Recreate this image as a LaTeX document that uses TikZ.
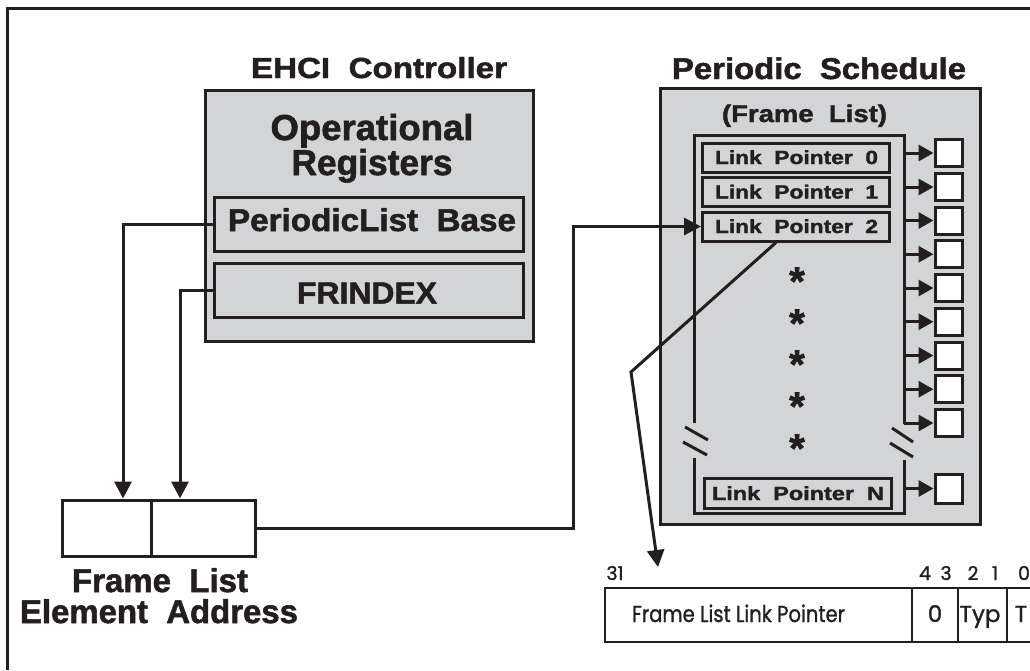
\documentclass[tikz,border=0pt]{standalone}
\usepackage{fontspec}
\usepackage{graphicx}
\setmainfont{Liberation Sans}[BoldFeatures={FakeBold=1.6}]
\newfontfamily\regfont{Poppins}[FakeBold=1.2]
\usetikzlibrary{arrows.meta}
\definecolor{ink}{RGB}{35,31,32}
\definecolor{panelgray}{RGB}{211,212,214}
% bold label set at a given size and brought to a given width: #1 width, #2 size, #3 text
\newcommand\boldfit[3]{\resizebox{#1pt}{\height}{\fontsize{#2pt}{#2pt}\selectfont\bfseries #3}}
% register-field lettering, same idea
\newcommand\regfit[3]{\resizebox{#1pt}{\height}{\fontsize{#2pt}{#2pt}\selectfont\regfont #3}}
\begin{document}
\begin{tikzpicture}[x=1pt,y=-1pt,
  every node/.style={text=ink},
  heavy/.style={draw=ink, line width=3pt},
  panel/.style={draw=ink, line width=3pt, fill=panelgray, inner sep=0pt},
  cell/.style={draw=ink, line width=3pt, fill=white, inner sep=0pt},
  slot/.style={draw=ink, line width=3pt, fill=panelgray, inner sep=0pt,
               minimum width=187pt, minimum height=29pt},
  qhead/.style={cell, minimum width=27pt, minimum height=27pt},
  regcell/.style={draw=ink, line width=2.5pt, fill=white, inner sep=0pt, minimum height=54pt},
  conn/.style={draw=ink, line width=3pt, -{Triangle[length=17pt,width=17pt]}},
  feed/.style={draw=ink, line width=3pt, -{Triangle[length=15pt,width=16pt]}},
  txt/.style={anchor=base, inner sep=0pt},
]
\useasboundingbox (0,0) rectangle (1030,670);
\clip (0,0) rectangle (1030,670);

% page frame (top and left edges)
\draw[heavy] (1030,8.5) -- (7,8.5) -- (7,670);

% ---------------- EHCI controller ----------------
\node[txt] (ehcititle) at (379,78) {\boldfit{256}{29}{EHCI\ \ Controller}};
\node[panel, minimum width=328pt, minimum height=251pt] (ehci) at (369,215.5) {};
\node[txt] (opreg1) at (372,140) {\boldfit{203}{36}{Operational}};
\node[txt] (opreg2) at (372,175) {\boldfit{161}{36}{Registers}};
\node[panel, minimum width=309pt, minimum height=54pt] (plbase) at (368.5,224) {};
\node[txt] (plbasetxt) at (372,231) {\boldfit{288}{31.5}{PeriodicList\ \ Base}};
\node[panel, minimum width=309pt, minimum height=54pt] (frindex) at (368.5,290) {};
\node[txt] (frindextxt) at (367,303.5) {\boldfit{140}{30.5}{FRINDEX}};

% ---------------- frame list element address ----------------
\node[cell, minimum width=89pt, minimum height=56pt] (fleleft) at (106.5,528) {};
\node[cell, minimum width=104pt, minimum height=56pt] (fleright) at (203,528) {};
\node[txt] (flelab1) at (160,592) {\boldfit{176}{33}{Frame\ \ List}};
\node[txt] (flelab2) at (159,623) {\boldfit{278}{33}{Element\ \ Address}};

\draw[conn] (plbase.west) -| ([xshift=16.5pt]fleleft.north);
\draw[conn] (frindex.west) -| ([xshift=-23pt]fleright.north);

% ---------------- periodic schedule ----------------
\node[txt] (pstitle) at (819,79) {\boldfit{294}{30}{Periodic\ \ Schedule}};
\node[panel, minimum width=320pt, minimum height=436pt] (psched) at (820,306) {};
\node[txt] (flisttitle) at (804.5,122) {\boldfit{165}{24}{(Frame\ \ List)}};

% frame list outline, broken on both sides
\draw[heavy] (694,423) -- (694,135) -- (904,135) -- (904,424);
\draw[heavy] (694,458) -- (694,513) -- (904,513) -- (904,460);
\draw[heavy] (685,427) -- (708,440);
\draw[heavy] (683,442) -- (707,455);
\draw[heavy] (892,428) -- (913,442);
\draw[heavy] (890,443) -- (913,457);

% frame list entries
\node[slot] (lp0) at (796,157.5) {};
\node[txt] (lp0txt) at (796.5,164) {\boldfit{163}{19}{Link\ \ Pointer\ \ 0}};
\node[slot] (lp1) at (796,192) {};
\node[txt] (lp1txt) at (796.5,198.5) {\boldfit{163}{19}{Link\ \ Pointer\ \ 1}};
\node[slot] (lp2) at (796,226.5) {};
\node[txt] (lp2txt) at (796.5,233) {\boldfit{163}{19}{Link\ \ Pointer\ \ 2}};
\node[slot, minimum height=30pt] (lpn) at (798,493) {};
\node[txt] (lpntxt) at (798,500) {\boldfit{172}{19}{Link\ \ Pointer\ \ N}};

\foreach \k/\yy in {1/275,2/317,3/358,4/400,5/442}
  \node[txt] (dot\k) at (797,{\yy+20}) {\fontsize{40pt}{40pt}\selectfont\bfseries *};

% schedule heads fed from the right rail
\coordinate (rail) at (904,0);
\foreach \k/\yy in {0/153,1/187,2/220.5,3/254.25,4/288,5/321.75,6/355.5,7/389.25,8/423} {
  \node[qhead] (q\k) at (948.5,\yy) {};
  \draw[feed] (q\k.west -| rail) -- (q\k.west);
}
\node[qhead, minimum height=29pt] (qn) at (948.5,488.5) {};
\draw[feed] (qn.west -| rail) -- (qn.west);

% base address into the list
\coordinate (jog) at (573,0);
\draw[conn] (fleright.east) -| (jog |- lp2.west) -- (lp2.west);

% ---------------- link pointer format ----------------
\node[regcell, minimum width=307pt] (regptr) at (758.5,615) {};
\node[regcell, minimum width=46pt] (regzero) at (935,615) {};
\node[regcell, minimum width=49pt] (regtyp) at (982.5,615) {};
\node[regcell, minimum width=46pt] (regt) at (1030,615) {};
\node[txt] (regptrtxt) at (738.5,622) {\regfit{213}{23}{Frame List Link Pointer}};
\node[txt] (regzerotxt) at (935,622) {\fontsize{23pt}{23pt}\selectfont\regfont 0};
\node[txt] (regtyptxt) at (980,622) {\fontsize{23pt}{23pt}\selectfont\regfont Typ};
\node[txt] (regttxt) at (1021,622) {\fontsize{23pt}{23pt}\selectfont\regfont T};
\foreach \b/\xx in {31/615,4/925,3/946,2/973,1/995,0/1024}
  \node[txt] (bit\b) at (\xx,580) {\fontsize{19pt}{19pt}\selectfont\regfont \b};

% entry expanded into its format
\coordinate (ptrbend) at (631,372);
\coordinate (ptrtip) at (658,567);
\draw[conn] ([xshift=-20pt]lp2.south) -- (ptrbend) -- (ptrtip);
\end{tikzpicture}
\end{document}
